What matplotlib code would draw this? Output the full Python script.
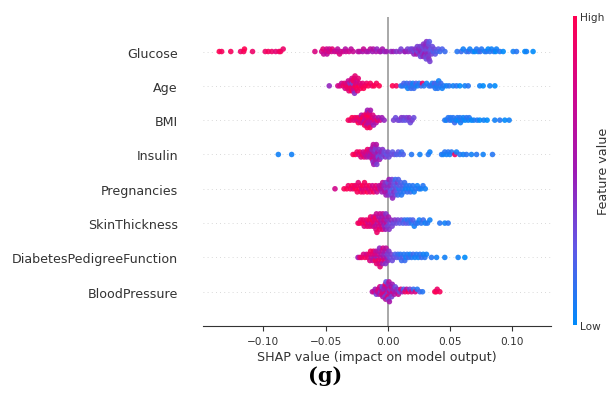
import matplotlib
matplotlib.use('Agg')
import matplotlib.pyplot as plt
import numpy as np
from matplotlib.colors import LinearSegmentedColormap
from matplotlib.colorbar import ColorbarBase

features = ['BloodPressure', 'DiabetesPedigreeFunction', 'SkinThickness', 'Pregnancies',
            'Insulin', 'BMI', 'Age', 'Glucose']

# shap values and normalised feature values (0 = low, 1 = high)
glucose_shap = [-0.1354, -0.1335, -0.1262, -0.1183, -0.1158, -0.1152, -0.1087, -0.0985, -0.0961, -0.0932,
                -0.0901, -0.0874, -0.0862, -0.0841,
                -0.0586, -0.0532, -0.0521, -0.0516, -0.0498, -0.0492, -0.0489, -0.0475, -0.0470, -0.0453,
                -0.0447, -0.0428, -0.0410, -0.0404, -0.0388, -0.0381, -0.0360, -0.0341, -0.0337, -0.0312,
                -0.0296, -0.0279, -0.0240, -0.0228, -0.0203, -0.0196, -0.0172, -0.0158, -0.0141, -0.0124,
                -0.0118, -0.0095, -0.0088, -0.0065, -0.0058, -0.0044, -0.0027, -0.0012,
                0.0025, 0.0043, 0.0068, 0.0096, 0.0105, 0.0133, 0.0140, 0.0158, 0.0163, 0.0182,
                0.0190, 0.0197, 0.0209, 0.0215, 0.0221, 0.0230, 0.0236, 0.0241, 0.0247, 0.0254,
                0.0258, 0.0262, 0.0266, 0.0271, 0.0276, 0.0279, 0.0283, 0.0286, 0.0290, 0.0293,
                0.0296, 0.0299, 0.0302, 0.0305, 0.0308, 0.0310, 0.0313, 0.0315, 0.0318, 0.0321,
                0.0324, 0.0327, 0.0330, 0.0333, 0.0337, 0.0341, 0.0346, 0.0351, 0.0357, 0.0364,
                0.0372, 0.0380, 0.0391, 0.0405, 0.0418, 0.0436, 0.0458,
                0.0556, 0.0589, 0.0605, 0.0631, 0.0649, 0.0658, 0.0683, 0.0698, 0.0712, 0.0725,
                0.0741, 0.0752, 0.0778, 0.0791, 0.0805, 0.0819, 0.0832, 0.0851, 0.0866, 0.0872,
                0.0899, 0.0926, 0.1006, 0.1033, 0.1100, 0.1113, 0.1166]
glucose_feat = [1.0, 0.95, 0.95, 0.9, 0.95, 1.0, 0.9, 0.9, 0.95, 0.9, 0.85, 0.9, 0.95, 0.9,
                0.8, 0.75, 0.85, 0.7, 0.8, 0.75, 0.65, 0.8, 0.7, 0.75, 0.85, 0.7, 0.75, 0.65, 0.8, 0.7,
                0.75, 0.6, 0.7, 0.75, 0.65, 0.7, 0.6, 0.65, 0.55, 0.7, 0.6, 0.55, 0.65, 0.5, 0.6, 0.55,
                0.45, 0.6, 0.5, 0.55, 0.45, 0.5,
                0.45, 0.5, 0.4, 0.45, 0.35, 0.4, 0.5, 0.35, 0.45, 0.3,
                0.4, 0.35, 0.45, 0.3, 0.4, 0.55, 0.35, 0.3, 0.45, 0.4,
                0.35, 0.3, 0.5, 0.4, 0.35, 0.3, 0.45, 0.4, 0.35, 0.3,
                0.5, 0.4, 0.35, 0.45, 0.3, 0.4, 0.35, 0.3, 0.45, 0.4,
                0.35, 0.3, 0.4, 0.25, 0.35, 0.3, 0.25, 0.35, 0.3, 0.2,
                0.3, 0.25, 0.2, 0.25, 0.15, 0.2, 0.15,
                0.1, 0.15, 0.05, 0.1, 0.15, 0.05, 0.1, 0.0, 0.1, 0.05,
                0.15, 0.1, 0.05, 0.1, 0.0, 0.1, 0.05, 0.1, 0.0, 0.05,
                0.1, 0.0, 0.05, 0.1, 0.0, 0.05, 0.0]

age_shap = [-0.0471,
            -0.0402, -0.0385, -0.0372, -0.0360, -0.0351, -0.0343, -0.0336, -0.0330, -0.0324, -0.0318,
            -0.0313, -0.0309, -0.0304, -0.0300, -0.0296, -0.0292, -0.0289, -0.0286, -0.0283, -0.0280,
            -0.0277, -0.0274, -0.0271, -0.0268, -0.0264, -0.0261, -0.0257, -0.0253, -0.0248, -0.0243,
            -0.0238, -0.0232, -0.0226, -0.0219, -0.0212, -0.0203, -0.0195, -0.0184, -0.0171, -0.0158,
            -0.0141, -0.0126, -0.0110, -0.0092, -0.0070,
            0.0037, 0.0068,
            0.0105, 0.0118, 0.0128, 0.0140, 0.0151, 0.0160, 0.0170, 0.0178, 0.0186, 0.0194,
            0.0201, 0.0209, 0.0217, 0.0226, 0.0238, 0.0251, 0.0266, 0.0278, 0.0290, 0.0311,
            0.0330, 0.0345, 0.0356, 0.0366, 0.0374, 0.0381, 0.0388, 0.0394, 0.0401, 0.0408,
            0.0416, 0.0425, 0.0436, 0.0448, 0.0470, 0.0492, 0.0524, 0.0551, 0.0578, 0.0618,
            0.0645, 0.0738, 0.0765, 0.0819, 0.0859]
age_feat = [0.45,
            0.75, 0.8, 0.7, 0.9, 0.85, 0.75, 0.95, 0.8, 0.9, 0.7,
            0.85, 0.95, 0.4, 0.9, 0.8, 1.0, 0.75, 0.9, 0.35, 0.85,
            0.95, 0.7, 0.9, 0.4, 0.85, 1.0, 0.8, 0.95, 0.75, 0.9,
            0.85, 1.0, 0.8, 0.95, 0.9, 0.85, 1.0, 0.95, 0.9, 1.0,
            0.95, 0.9, 1.0, 0.95, 1.0,
            1.0, 0.95,
            0.15, 0.1, 0.2, 0.1, 0.15, 0.05, 0.1, 0.2, 0.15, 0.1,
            0.05, 0.15, 0.1, 0.2, 0.05, 0.1, 0.15, 0.9, 0.1, 0.05,
            0.1, 0.15, 0.05, 0.1, 0.2, 0.1, 0.05, 0.15, 0.1, 0.05,
            0.1, 0.15, 0.05, 0.1, 0.05, 0.1, 0.05, 0.1, 0.0, 0.05,
            0.1, 0.05, 0.0, 0.05, 0.0]

bmi_shap = [-0.0318, -0.0301, -0.0288, -0.0276, -0.0265, -0.0255, -0.0246, -0.0238, -0.0231, -0.0225,
            -0.0219, -0.0213, -0.0207, -0.0202, -0.0197, -0.0192, -0.0188, -0.0184, -0.0180, -0.0176,
            -0.0172, -0.0170, -0.0168, -0.0166, -0.0164, -0.0160, -0.0158, -0.0156, -0.0152, -0.0150,
            -0.0148, -0.0144, -0.0140, -0.0136, -0.0131, -0.0126, -0.0121, -0.0115, -0.0109, -0.0102,
            -0.0094, -0.0085, -0.0075, -0.0062, -0.0048, -0.0030,
            0.0046, 0.0062, 0.0081, 0.0095, 0.0108, 0.0117, 0.0126, 0.0138, 0.0150, 0.0163,
            0.0171, 0.0180, 0.0194, 0.0208,
            0.0457, 0.0470, 0.0484, 0.0496, 0.0503, 0.0515, 0.0524, 0.0536, 0.0546, 0.0557,
            0.0565, 0.0578, 0.0583, 0.0597, 0.0605, 0.0620, 0.0631, 0.0645, 0.0653, 0.0671,
            0.0690, 0.0717, 0.0738, 0.0770, 0.0797, 0.0859, 0.0899, 0.0939, 0.0974]
bmi_feat = [0.95, 0.9, 1.0, 0.85, 0.95, 0.8, 0.9, 1.0, 0.75, 0.95,
            0.85, 0.6, 0.9, 1.0, 0.7, 0.85, 0.95, 0.55, 0.8, 0.9,
            1.0, 0.65, 0.85, 0.95, 0.5, 0.8, 0.9, 0.7, 1.0, 0.6,
            0.85, 0.95, 0.55, 0.75, 0.9, 0.65, 0.8, 0.5, 0.85, 0.7,
            0.6, 0.9, 0.55, 0.75, 0.5, 0.45,
            0.35, 0.3, 0.35, 0.3, 0.4, 0.3, 0.35, 0.25, 0.35, 0.3,
            0.4, 0.3, 0.35, 0.3,
            0.1, 0.05, 0.1, 0.15, 0.1, 0.05, 0.1, 0.15, 0.05, 0.1,
            0.0, 0.1, 0.05, 0.1, 0.05, 0.0, 0.1, 0.05, 0.1, 0.0,
            0.05, 0.1, 0.0, 0.05, 0.0, 0.05, 0.1, 0.0, 0.05]

insulin_shap = [-0.0880, -0.0773,
                -0.0280, -0.0262, -0.0248, -0.0236, -0.0226, -0.0216, -0.0207, -0.0199, -0.0191, -0.0184,
                -0.0177, -0.0170, -0.0164, -0.0158, -0.0152, -0.0147, -0.0142, -0.0137, -0.0133, -0.0129,
                -0.0127, -0.0125, -0.0121, -0.0119, -0.0117, -0.0113, -0.0111, -0.0109, -0.0105, -0.0101,
                -0.0099, -0.0097, -0.0095, -0.0093, -0.0089, -0.0085, -0.0081, -0.0077, -0.0072, -0.0067,
                -0.0062, -0.0056, -0.0050, -0.0043, -0.0036, -0.0028, -0.0019, -0.0010, 0.0000, 0.0008,
                0.0025, 0.0037, 0.0052, 0.0070, 0.0083, 0.0096, 0.0110, 0.0123,
                0.0190, 0.0257, 0.0324, 0.0337, 0.0431, 0.0444, 0.0457, 0.0471, 0.0484, 0.0497,
                0.0511, 0.0538, 0.0551, 0.0578, 0.0605, 0.0631, 0.0671, 0.0712, 0.0765, 0.0840]
insulin_feat = [0.05, 0.05,
                0.95, 1.0, 0.9, 0.85, 0.95, 0.8, 0.9, 0.75, 0.85, 0.7,
                0.8, 0.65, 0.9, 0.6, 0.75, 0.55, 0.8, 0.5, 0.7, 0.6,
                0.45, 0.75, 0.55, 0.4, 0.65, 0.5, 0.7, 0.45, 0.6, 0.35,
                0.55, 0.4, 0.5, 0.6, 0.35, 0.45, 0.55, 0.3, 0.4, 0.5,
                0.35, 0.45, 0.3, 0.4, 0.35, 0.3, 0.4, 0.25, 0.35, 0.3,
                0.3, 0.25, 0.3, 0.2, 0.25, 0.2, 0.15, 0.2,
                0.1, 0.05, 0.1, 0.05, 0.1, 0.05, 0.1, 0.05, 0.1, 0.05,
                0.1, 0.9, 0.05, 0.1, 0.05, 0.1, 0.05, 0.1, 0.05, 0.1]

pregnancies_shap = [-0.0425, -0.0352, -0.0330, -0.0318, -0.0302, -0.0290, -0.0281, -0.0270, -0.0262, -0.0254,
                    -0.0246, -0.0238, -0.0230, -0.0223, -0.0216, -0.0209, -0.0202, -0.0195, -0.0188, -0.0181,
                    -0.0174, -0.0166, -0.0158, -0.0150, -0.0142, -0.0133, -0.0124, -0.0115, -0.0106, -0.0097,
                    -0.0088, -0.0079, -0.0070,
                    -0.0062, -0.0055, -0.0048, -0.0042, -0.0036, -0.0030, -0.0025, -0.0020, -0.0015, -0.0011,
                    -0.0007, -0.0003, 0.0001, 0.0005, 0.0009, 0.0013, 0.0017, 0.0021, 0.0025, 0.0029,
                    0.0033, 0.0037, 0.0040, 0.0044, 0.0048, 0.0052, 0.0056, 0.0060, 0.0064, 0.0068,
                    0.0072, 0.0076, 0.0080, 0.0084, 0.0089, 0.0094, 0.0099, 0.0104, 0.0109, 0.0115,
                    0.0121, 0.0127, 0.0134, 0.0141, 0.0148, 0.0156, 0.0164, 0.0172, 0.0181, 0.0190,
                    0.0200, 0.0211, 0.0223, 0.0236, 0.0250, 0.0265, 0.0282, 0.0300]
pregnancies_feat = [0.75, 0.95, 1.0, 0.9, 0.95, 1.0, 0.85, 0.95, 1.0, 0.9,
                    0.95, 0.85, 1.0, 0.9, 0.95, 0.8, 1.0, 0.9, 0.95, 0.85,
                    0.9, 1.0, 0.8, 0.95, 0.85, 0.9, 0.75, 0.95, 0.8, 0.85,
                    0.7, 0.9, 0.65,
                    0.6, 0.7, 0.5, 0.65, 0.55, 0.45, 0.6, 0.4, 0.5, 0.35,
                    0.45, 0.55, 0.3, 0.4, 0.5, 0.35, 0.45, 0.25, 0.4, 0.3,
                    0.35, 0.45, 0.2, 0.3, 0.4, 0.25, 0.35, 0.15, 0.3, 0.2,
                    0.25, 0.35, 0.15, 0.2, 0.1, 0.25, 0.15, 0.2, 0.1, 0.15,
                    0.2, 0.1, 0.15, 0.05, 0.1, 0.15, 0.05, 0.1, 0.15, 0.05,
                    0.1, 0.05, 0.1, 0.05, 0.1, 0.05, 0.1, 0.05]

skin_shap = [-0.0240, -0.0228, -0.0218, -0.0208, -0.0199, -0.0190, -0.0182, -0.0174, -0.0166, -0.0159,
             -0.0152,
             -0.0145, -0.0139, -0.0133, -0.0127, -0.0122, -0.0117, -0.0112, -0.0108, -0.0104, -0.0100,
             -0.0096, -0.0092, -0.0088, -0.0084, -0.0080, -0.0076, -0.0072, -0.0068, -0.0064, -0.0060,
             -0.0056, -0.0052, -0.0048, -0.0044, -0.0040, -0.0036, -0.0032, -0.0028, -0.0024, -0.0020,
             -0.0016, -0.0012, -0.0007, -0.0002, 0.0004, 0.0010, 0.0017, 0.0025, 0.0034, 0.0044,
             0.0055, 0.0067, 0.0080, 0.0094,
             0.0108, 0.0121, 0.0133, 0.0145, 0.0156, 0.0167, 0.0178, 0.0189, 0.0200, 0.0212,
             0.0224, 0.0238, 0.0252, 0.0268, 0.0284, 0.0300, 0.0318, 0.0337, 0.0417, 0.0457,
             0.0484]
skin_feat = [0.9, 0.95, 0.85, 1.0, 0.9, 0.8, 0.95, 0.85, 0.9, 0.75,
             0.95,
             0.85, 0.9, 0.75, 0.95, 0.8, 0.7, 0.9, 0.85, 0.65, 0.95,
             0.8, 0.7, 0.9, 0.6, 0.85, 0.75, 0.55, 0.9, 0.7, 0.8,
             0.6, 0.75, 0.5, 0.85, 0.65, 0.55, 0.7, 0.45, 0.6, 0.5,
             0.4, 0.65, 0.45, 0.35, 0.55, 0.4, 0.3, 0.45, 0.35, 0.3,
             0.4, 0.3, 0.35, 0.25,
             0.3, 0.2, 0.15, 0.25, 0.1, 0.2, 0.15, 0.1, 0.2, 0.05,
             0.15, 0.1, 0.05, 0.1, 0.15, 0.05, 0.1, 0.05, 0.1, 0.05,
             0.1]

dpf_shap = [-0.0240, -0.0225, -0.0210, -0.0196, -0.0184, -0.0172, -0.0162, -0.0153,
            -0.0145, -0.0139, -0.0133, -0.0127, -0.0121, -0.0116, -0.0111, -0.0106, -0.0101, -0.0096,
            -0.0091, -0.0087, -0.0083, -0.0079, -0.0075, -0.0071, -0.0067, -0.0063, -0.0059, -0.0055,
            -0.0051, -0.0047, -0.0043, -0.0039, -0.0035, -0.0031, -0.0027, -0.0023, -0.0019, -0.0015,
            -0.0010, -0.0005, 0.0001, 0.0008, 0.0016, 0.0025, 0.0035,
            0.0048, 0.0058, 0.0070, 0.0080, 0.0091, 0.0100, 0.0110, 0.0118, 0.0128, 0.0136,
            0.0145, 0.0155, 0.0166, 0.0178, 0.0190, 0.0203, 0.0217, 0.0230, 0.0244, 0.0257,
            0.0270, 0.0284, 0.0297, 0.0310, 0.0350, 0.0391, 0.0457, 0.0564, 0.0618]
dpf_feat = [0.5, 0.85, 0.9, 0.8, 0.95, 0.75, 0.9, 0.85,
            0.8, 0.95, 0.6, 0.85, 0.7, 0.9, 0.55, 0.8, 0.95, 0.65,
            0.85, 0.5, 0.75, 0.9, 0.6, 0.8, 0.45, 0.85, 0.7, 0.55,
            0.9, 0.65, 0.5, 0.75, 0.6, 0.45, 0.8, 0.55, 0.4, 0.65,
            0.5, 0.35, 0.45, 0.4, 0.3, 0.35, 0.3,
            0.3, 0.2, 0.25, 0.15, 0.2, 0.1, 0.15, 0.2, 0.1, 0.15,
            0.05, 0.1, 0.15, 0.05, 0.1, 0.15, 0.05, 0.1, 0.05, 0.1,
            0.15, 0.05, 0.1, 0.05, 0.1, 0.05, 0.05, 0.05, 0.0]

bp_shap = [-0.0125, -0.0112, -0.0102, -0.0093, -0.0085, -0.0078,
           -0.0071, -0.0065, -0.0059, -0.0054, -0.0049, -0.0045, -0.0041, -0.0037, -0.0033, -0.0030,
           -0.0027, -0.0024, -0.0021, -0.0018, -0.0015, -0.0012, -0.0009, -0.0006, -0.0003, 0.0000,
           0.0003, 0.0006, 0.0009, 0.0012, 0.0015, 0.0018, 0.0022, 0.0026, 0.0030, 0.0035,
           0.0040, 0.0046, 0.0052, 0.0059, 0.0066,
           0.0075, 0.0084, 0.0094, 0.0104, 0.0115, 0.0126, 0.0138, 0.0150, 0.0163, 0.0176,
           0.0190, 0.0205, 0.0220, 0.0236, 0.0257, 0.0278, 0.0377, 0.0388, 0.0396, 0.0417]
bp_feat = [0.6, 0.75, 0.5, 0.35, 0.7, 0.8,
           0.55, 0.75, 0.4, 0.65, 0.85, 0.3, 0.6, 0.7, 0.45, 0.8,
           0.55, 0.35, 0.9, 0.6, 0.25, 0.75, 0.5, 0.4, 0.7, 0.85,
           0.45, 0.3, 0.65, 0.55, 0.8, 0.4, 0.6, 0.7, 0.35, 0.5,
           0.75, 0.45, 0.6, 0.3, 0.55,
           0.4, 0.7, 0.3, 0.85, 0.5, 0.2, 0.9, 0.6, 0.95, 0.35,
           0.75, 0.15, 0.8, 0.1, 0.2, 0.1, 0.95, 1.0, 0.9, 0.95]

shap_rows = [bp_shap, dpf_shap, skin_shap, pregnancies_shap, insulin_shap, bmi_shap, age_shap, glucose_shap]
feat_rows = [bp_feat, dpf_feat, skin_feat, pregnancies_feat, insulin_feat, bmi_feat, age_feat, glucose_feat]

red_blue = LinearSegmentedColormap.from_list(
    'red_blue', ['#008bfb', '#6157e6', '#9e1ab4', '#d0068c', '#ff0051'])


def swarm_offsets(values, row_height=0.4, bin_width=0.0025):
    # stack points that share a bin, alternating above / below the row line
    values = np.asarray(values)
    quant = np.round(values / bin_width)
    inds = np.argsort(quant, kind='mergesort')
    ys = np.zeros(len(values))
    layer = 0
    last_bin = None
    for ind in inds:
        if quant[ind] != last_bin:
            layer = 0
        ys[ind] = np.ceil(layer / 2) * ((layer % 2) * 2 - 1)
        layer += 1
        last_bin = quant[ind]
    ys *= 0.9 * (row_height / np.max(ys + 1))
    return ys


fig = plt.figure(figsize=(6.14, 4.14), dpi=100)
ax = fig.add_axes([0.3306, 0.210, 0.5668, 0.746])

for pos, (vals, feats) in enumerate(zip(shap_rows, feat_rows)):
    assert len(vals) == len(feats), features[pos]
    ax.axhline(pos, color='#cccccc', lw=0.6, dashes=(1, 4), zorder=-1)
    ys = swarm_offsets(vals)
    ax.scatter(vals, pos + ys, c=feats, cmap=red_blue, vmin=0, vmax=1,
               s=16, linewidths=0, alpha=0.9, zorder=3)

ax.axvline(0, color='#999999', lw=1.2, zorder=-1)

ax.set_yticks(range(len(features)))
ax.set_yticklabels(features, fontsize=9.1, color='#333333')
ax.set_ylim(-1, len(features))
ax.set_xlim(-0.1485, 0.131)
ax.set_xticks([-0.10, -0.05, 0.0, 0.05, 0.10])
ax.set_xticklabels(['\u22120.10', '\u22120.05', '0.00', '0.05', '0.10'])
ax.tick_params(axis='y', length=0, pad=18)
ax.tick_params(axis='x', labelsize=7.6, labelcolor='#333333', color='#333333')
for side in ['left', 'top', 'right']:
    ax.spines[side].set_visible(False)
ax.spines['bottom'].set_color('#333333')
ax.set_xlabel('SHAP value (impact on model output)', fontsize=9.1, color='#333333', labelpad=3)

cax = fig.add_axes([573 / 614, (414 - 326) / 414, 4 / 614, 309 / 414])
cb = ColorbarBase(cax, cmap=red_blue, ticks=[0, 1])
cb.set_ticklabels(['Low', 'High'])
cb.outline.set_visible(False)
cax.tick_params(length=0, labelsize=7.6, labelcolor='#333333', pad=2)
cb.set_label('Feature value', fontsize=9.2, color='#333333', labelpad=-5)

fig.text(325 / 614, 1 - 376 / 414, '(g)', fontsize=15, fontweight='bold',
         family='DejaVu Serif', ha='center', va='center')

fig.savefig('out.png', dpi=100)
